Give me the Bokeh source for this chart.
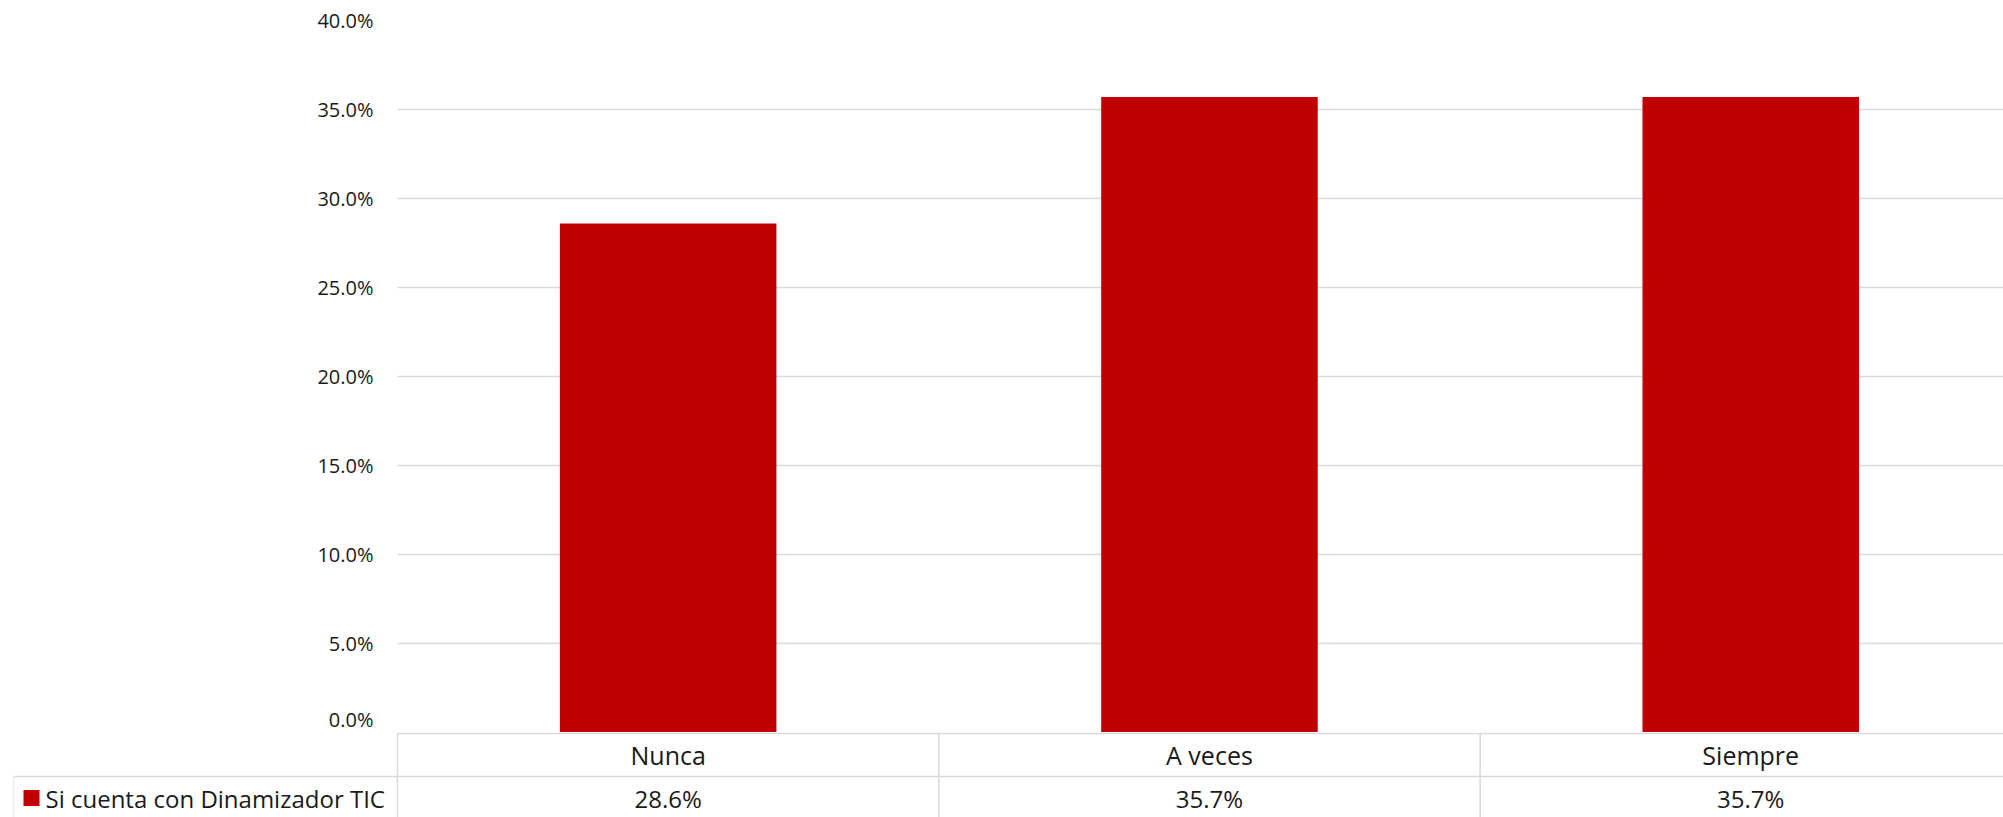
import numpy as np
from bokeh.plotting import figure
from bokeh.models import Range1d, FixedTicker, NumeralTickFormatter, ColumnDataSource
from bokeh.core.properties import value
from bokeh.embed import file_html
from bokeh.resources import INLINE

# ---- data ----
categories = ["Nunca", "A veces", "Siempre"]
values = [0.286, 0.357, 0.357]
series_name = "Si cuenta con Dinamizador TIC"
y_ticks = [0.0, 0.05, 0.10, 0.15, 0.20, 0.25, 0.30, 0.35, 0.40]

BAR = "#C00000"
GRID = "#D9D9D9"
TXT = "#1a1a1a"
FONT = "Open Sans"

W = 2003
band_px = 541.3
left_border = 397
x_end = (W - left_border) / band_px

idx = np.arange(len(categories)) + 0.5

# ---- top chart ----
H1 = 732
p = figure(width=W, height=H1, output_backend="svg", toolbar_location=None,
           x_range=Range1d(0, x_end), y_range=Range1d(0, 0.40),
           x_axis_location=None, min_border_left=left_border, min_border_top=20,
           min_border_right=0, min_border_bottom=0)
p.outline_line_color = None
p.background_fill_color = "white"
p.border_fill_color = "white"
p.xgrid.visible = False
p.ygrid.grid_line_color = GRID
p.ygrid.grid_line_width = 1.5
p.yaxis.ticker = FixedTicker(ticks=y_ticks)
p.yaxis.formatter = NumeralTickFormatter(format="0.0%")
p.yaxis.axis_line_color = None
p.yaxis.major_tick_line_color = None
p.yaxis.minor_tick_line_color = None
p.yaxis.major_tick_out = 0
p.yaxis.major_label_standoff = 24
p.yaxis.major_label_text_font = FONT
p.yaxis.major_label_text_font_size = "20px"
p.yaxis.major_label_text_color = TXT

src = ColumnDataSource(dict(x=idx, top=values, cat=categories))
p.vbar(x="x", top="top", width=0.4, bottom=0, source=src,
       fill_color=BAR, line_color=None)

# ---- data table below ----
row_px = 43.0
H2 = 85
left2 = 13
x0 = -(left_border - left2) / band_px
t = figure(width=W, height=H2, output_backend="svg", toolbar_location=None,
           x_range=Range1d(x0, x_end),
           y_range=Range1d((H2 - 1) / row_px, -1 / row_px),
           x_axis_location=None, y_axis_location=None,
           min_border_left=left2, min_border_top=0, min_border_right=0, min_border_bottom=0)
t.outline_line_color = None
t.grid.visible = False
t.background_fill_color = "white"
t.border_fill_color = "white"

n = len(categories)
# horizontal lines
t.segment(x0=[0, x0, x0], y0=[0, 1, 2], x1=[n, n, n], y1=[0, 1, 2],
          line_color=GRID, line_width=1.5)
# vertical lines
t.segment(x0=list(range(n + 1)) + [x0], y0=[0] * (n + 1) + [1],
          x1=list(range(n + 1)) + [x0], y1=[2] * (n + 1) + [2],
          line_color=GRID, line_width=1.5)

labels = [f"{v*100:.1f}%" for v in values]
tsrc = ColumnDataSource(dict(x=idx, cat=categories, lab=labels,
                             yc=[0.5] * n, yv=[1.5] * n))
t.text(x="x", y="yc", text="cat", source=tsrc, text_align="center",
       text_baseline="middle", text_font=value(FONT), text_font_size="25px",
       text_color=TXT)
t.text(x="x", y="yv", text="lab", source=tsrc, text_align="center",
       text_baseline="middle", text_font=value(FONT), text_font_size="24px",
       text_color=TXT)

# legend key cell
t.scatter(x=[x0 + 18 / band_px], y=[1.5], marker="square", size=16,
          fill_color=BAR, line_color=None)
t.text(x=[x0], y=[1.5], text=[series_name], x_offset=32, text_align="left",
       text_baseline="middle", text_font=value(FONT), text_font_size="24px",
       text_color=TXT)

open("out.html", "w").write(file_html([p, t], INLINE))
